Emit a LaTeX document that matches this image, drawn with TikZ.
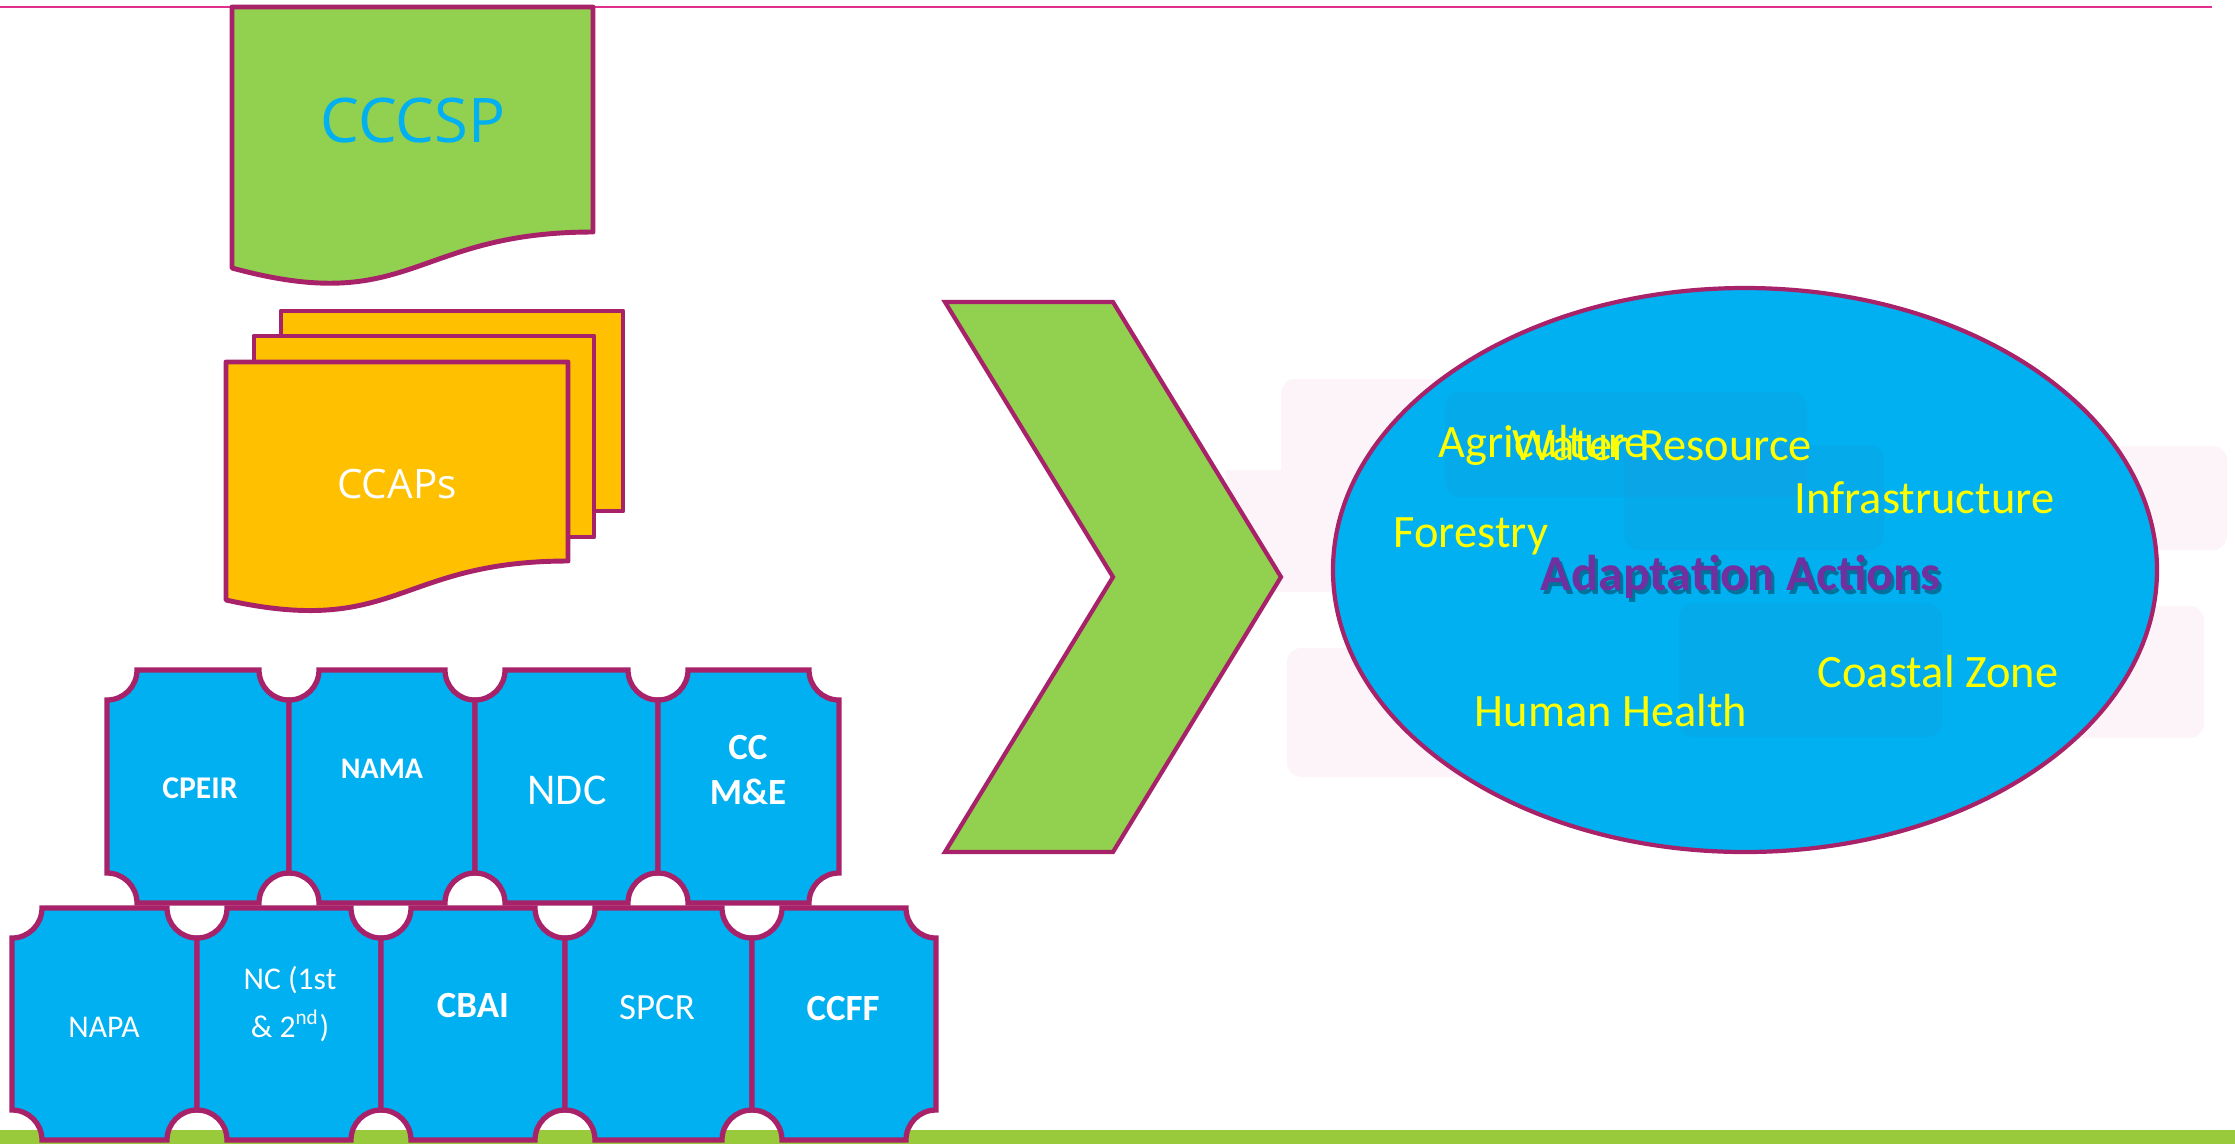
\documentclass[tikz,border=0pt]{standalone}
\usepackage{fontspec}
\setmainfont{Carlito}
\newfontfamily\segoe{Open Sans}

\definecolor{plum}{RGB}{168,34,106}
\definecolor{skyblue}{RGB}{0,176,240}
\definecolor{leafgreen}{RGB}{146,208,80}
\definecolor{bargreen}{RGB}{153,202,60}
\definecolor{amber}{RGB}{255,192,0}
\definecolor{headpink}{RGB}{226,46,140}
\definecolor{sunyellow}{RGB}{255,255,0}
\definecolor{actpurple}{RGB}{112,48,160}
\definecolor{hazepink}{RGB}{252,244,249}

\tikzset{
  tile/.style={draw=plum,line width=1.5pt,fill=skyblue},
  doc/.style={draw=plum,line width=1.4pt,line join=round},
  tilelabel/.style={text=white,inner sep=0pt,align=center},
  topic/.style={text=sunyellow,inner sep=0pt,anchor=base west,font=\fontsize{13.2}{15}\selectfont},
  haze/.style={fill=hazepink,rounded corners=4pt},
  tint/.style={fill=plum,fill opacity=0.035,rounded corners=4pt},
}

% one blue plaque with concave corners: x1, y1, x2, y2
\newcommand{\puzzletile}[4]{%
  \draw[tile] (#1+\nr,#2) -- (#3-\nr,#2) arc[start angle=180,end angle=90,radius=\nr]
    -- (#3,#4-\nr) arc[start angle=270,end angle=180,radius=\nr]
    -- (#1+\nr,#4) arc[start angle=0,end angle=-90,radius=\nr]
    -- (#1,#2+\nr) arc[start angle=90,end angle=0,radius=\nr] -- cycle;}

\begin{document}
\begin{tikzpicture}[x=0.01cm,y=-0.01cm]
  \def\nr{30}
  \useasboundingbox (0,0) rectangle (2235,1144);
  % header rule and footer bar
  \draw[headpink,line width=0.7pt] (0,7) -- (2212,7);
  \fill[bargreen] (0,1130) rectangle (2235,1144);
  % faint panels behind the ellipse
  \fill[haze] (1281,379) rectangle (1810,499);
  \fill[hazepink] (1226,470) rectangle (1640,592);
  \fill[haze] (1625,446) rectangle (2227,550);
  \fill[haze] (1287,648) rectangle (1939,777);
  \fill[haze] (1839,606) rectangle (2204,738);
  % strategy document
  \draw[doc,fill=leafgreen] (232,7) -- (593,7) -- (593,232)
    .. controls (412,232) and (412,317) .. (232,268) -- cycle;
  \node[font=\segoe\fontsize{17.5}{20}\selectfont,text=skyblue] (cccsp) at (413,121) {CCCSP};
  % stack of action plans
  \draw[doc,fill=amber] (281,311) rectangle (623,511);
  \draw[doc,fill=amber] (254,336) rectangle (594,537);
  \draw[doc,fill=amber] (226,362) -- (568,362) -- (568,561)
    .. controls (397,561) and (397,638) .. (226,600) -- cycle;
  \node[font=\segoe\fontsize{11.5}{14}\selectfont,text=white] (ccaps) at (397,484) {CCAPs};
  % chevron
  \draw[draw=plum,line width=1.2pt,fill=leafgreen] (945,302) -- (1113,302) -- (1281,577)
    -- (1113,852) -- (945,852) -- (1113,577) -- cycle;
  % ellipse of sectors
  \draw[draw=plum,line width=1.2pt,fill=skyblue] (1745,570) ellipse [x radius=412,y radius=282];
  \fill[tint] (1445,392) rectangle (1807,497);
  \fill[tint] (1624,445) rectangle (1884,550);
  \fill[tint] (1679,603) rectangle (1942,737);
  \node[topic] (agri) at (1438,457) {Agriculture};
  \node[topic] (water) at (1512,460) {Water Resource};
  \node[topic] (infra) at (1794,513) {Infrastructure};
  \node[topic] (forest) at (1393,547) {Forestry};
  \node[topic] (coast) at (1817,687) {Coastal Zone};
  \node[topic] (health) at (1474,726) {Human Health};
  \node[topic,text=black,opacity=0.35,font=\bfseries\fontsize{14.3}{17}\selectfont] (actshadow) at (1543,594) {Adaptation Actions};
  \node[topic,text=actpurple,font=\bfseries\fontsize{14.3}{17}\selectfont] (actions) at (1540,590) {Adaptation Actions};
  % plaques, upper then lower row
  \foreach \xa/\xb in {107/289,289/475,475/658,658/839}
    \puzzletile{\xa}{670}{\xb}{903};
  \foreach \xa/\xb in {12/197,197/381,381/565,565/752,752/936}
    \puzzletile{\xa}{908}{\xb}{1140};
  \node[tilelabel,font=\bfseries\fontsize{9}{11}\selectfont] (cpeir) at (200,788) {CPEIR};
  \node[tilelabel,font=\bfseries\fontsize{8.5}{10}\selectfont] (nama) at (382,769) {NAMA};
  \node[tilelabel,font=\fontsize{12.5}{15}\selectfont] (ndc) at (567,790) {NDC};
  \node[tilelabel,font=\bfseries\fontsize{10.5}{12.8}\selectfont] (ccme) at (748,770) {CC\\M\&E};
  \node[tilelabel,font=\fontsize{9}{11}\selectfont] (napa) at (104,1027) {NAPA};
  \node[tilelabel,font=\fontsize{9}{13.7}\selectfont] (nc) at (290,1004) {NC (1st\\\& 2\textsuperscript{nd})};
  \node[tilelabel,font=\bfseries\fontsize{10.5}{12}\selectfont] (cbai) at (473,1005) {CBAI};
  \node[tilelabel,font=\fontsize{10.5}{12}\selectfont] (spcr) at (657,1008) {SPCR};
  \node[tilelabel,font=\bfseries\fontsize{10.5}{12}\selectfont] (ccff) at (843,1008) {CCFF};
\end{tikzpicture}
\end{document}
